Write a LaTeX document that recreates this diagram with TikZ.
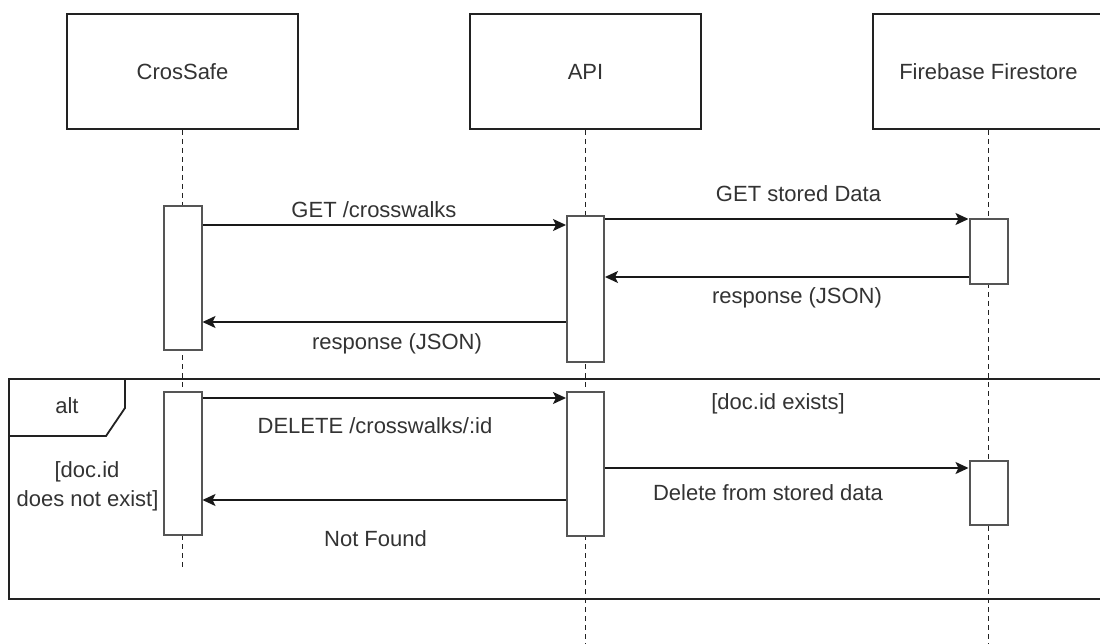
\documentclass[tikz,border=0pt]{standalone}
\usepackage{fontspec}
\setmainfont{Liberation Sans}
\usetikzlibrary{arrows.meta}
\definecolor{txt}{HTML}{333333}
\definecolor{ln}{HTML}{222222}
\definecolor{actc}{HTML}{555555}
\begin{document}
\begin{tikzpicture}[x=1pt,y=-1pt,
  font=\fontsize{22}{29}\selectfont,
  actorbox/.style={draw=ln,line width=2pt,fill=white,minimum width=231pt,minimum height=115pt,inner sep=0pt,text=txt},
  actbox/.style={draw=actc,line width=2pt,fill=white,minimum width=38pt,inner sep=0pt},
  lifeline/.style={draw=ln,line width=1.5pt,dash pattern=on 5pt off 4pt},
  msg/.style={draw=black!90,line width=1.6pt,-{Stealth[length=13pt,width=12pt,inset=3pt]}},
  lbl/.style={text=txt,anchor=base,inner sep=0pt},
  frame/.style={draw=ln,line width=1.8pt}]
\clip (0,0) rectangle (1100,644);
\fill[white] (0,0) rectangle (1100,644);
% actors
\node[actorbox] (cs) at (182.5,71.5) {CrosSafe};
\node[actorbox] (api) at (585.5,71.5) {API};
\node[actorbox] (fb) at (988.5,71.5) {Firebase Firestore};
% lifelines
\coordinate (csend) at (182.5,570);
\coordinate (apiend) at (585.5,650);
\coordinate (fbend) at (988.5,650);
\draw[lifeline] (cs.south) -- (csend);
\draw[lifeline] (api.south) -- (apiend);
\draw[lifeline] (fb.south) -- (fbend);
% alt frame
\draw[frame] (9,379) rectangle (1120,599);
\draw[frame] (9,436) -- (106,436) -- (125,408) -- (125,379);
\node[lbl] (altlbl) at (67,413) {alt};
% activations
\node[actbox,minimum height=144pt] (cs1) at (182.5,278) {};
\node[actbox,minimum width=37pt,minimum height=146pt] (api1) at (585.5,289) {};
\node[actbox,minimum height=65pt] (fb1) at (988.5,251.5) {};
\node[actbox,minimum height=143pt] (cs2) at (182.5,463.5) {};
\node[actbox,minimum width=37pt,minimum height=144pt] (api2) at (585.5,464) {};
\node[actbox,minimum height=64pt] (fb2) at (988.5,493) {};
% message levels
\coordinate (m1) at (0,225);
\coordinate (m2) at (0,219);
\coordinate (m3) at (0,277);
\coordinate (m4) at (0,322);
\coordinate (m5) at (0,398);
\coordinate (m6) at (0,468);
\coordinate (m7) at (0,500);
% messages
\draw[msg] (cs1.east |- m1) -- (api1.west |- m1);
\draw[msg] (api1.east |- m2) -- (fb1.west |- m2);
\draw[msg] (fb1.west |- m3) -- (api1.east |- m3);
\draw[msg] (api1.west |- m4) -- (cs1.east |- m4);
\draw[msg] (cs2.east |- m5) -- (api2.west |- m5);
\draw[msg] (api2.east |- m6) -- (fb2.west |- m6);
\draw[msg] (api2.west |- m7) -- (cs2.east |- m7);
% labels
\node[lbl] (l1) at (374,218) {GET /crosswalks};
\node[lbl] (l2) at (798.5,202) {GET stored Data};
\node[lbl] (l3) at (797,304) {response (JSON)};
\node[lbl] (l4) at (397,349) {response (JSON)};
\node[lbl] (l5) at (375,433) {DELETE /crosswalks/:id};
\node[lbl] (l6) at (375.5,546) {Not Found};
\node[lbl] (l7) at (778,409) {[doc.id exists]};
\node[lbl] (l8) at (768,500) {Delete from stored data};
\node[lbl] (g1) at (87,477) {[doc.id};
\node[lbl] (g2) at (87.5,506) {does not exist]};
\end{tikzpicture}
\end{document}
